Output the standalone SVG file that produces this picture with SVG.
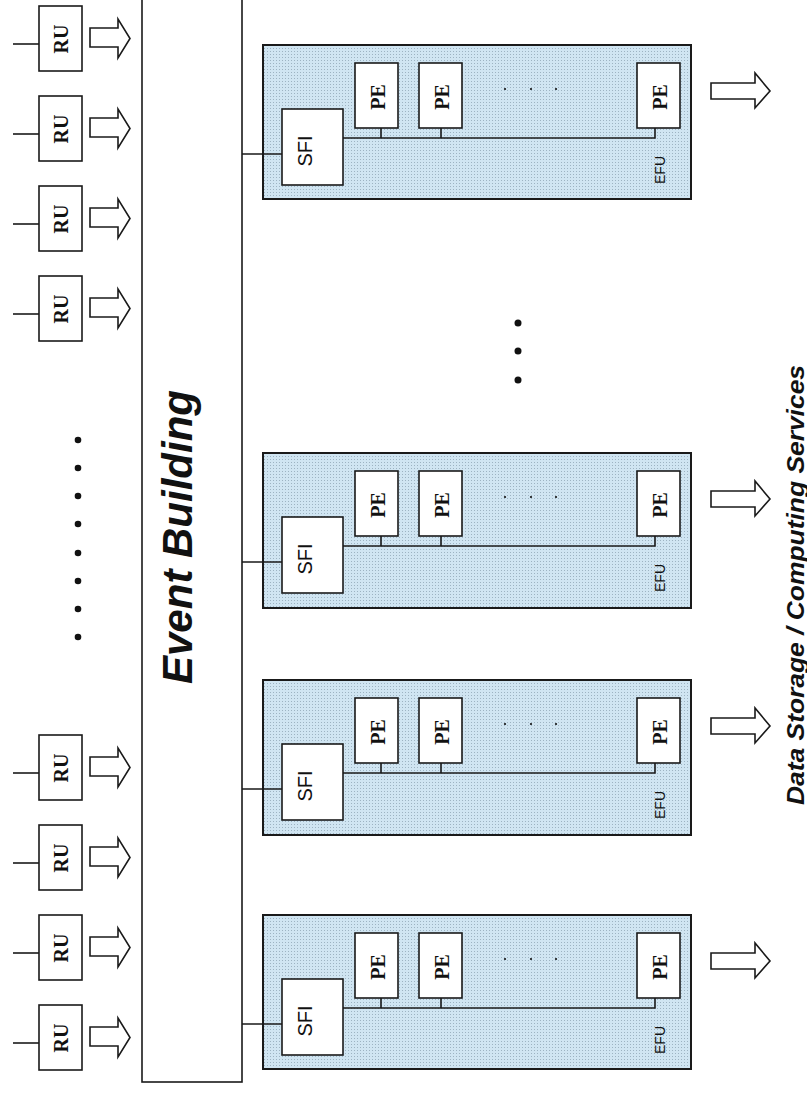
<svg xmlns="http://www.w3.org/2000/svg" width="807" height="1093" viewBox="0 0 807 1093">
<defs>
<pattern id="dots" width="3" height="3" patternUnits="userSpaceOnUse">
<rect width="3" height="3" fill="#d0e5f2"/>
<rect x="0" y="0" width="1" height="1" fill="#9db3c2"/>
</pattern>
<path id="ruArrow" d="M0,22 H28 V13 L40,32.5 L28,52 V41 H0 Z"/>
<path id="outArrow" d="M0,38 H44 V28 L59,46 L44,63 V54 H0 Z"/>
</defs>
<style>
.box{fill:#fff;stroke:#1a1a1a;stroke-width:1.6}
.efu{fill:url(#dots);stroke:#1a1a1a;stroke-width:2}
.ln{stroke:#1a1a1a;stroke-width:1.6;fill:none}
.arr{fill:#fff;stroke:#1a1a1a;stroke-width:1.6}
.serif{font-family:"Liberation Serif","Times New Roman",serif;font-weight:bold;font-size:20px;fill:#111}
.sans{font-family:"Liberation Sans",Arial,sans-serif;fill:#111}
.dot{fill:#111}
</style>
<rect width="807" height="1093" fill="#fff"/>

<g id="event-building">
<rect class="box" x="142" y="-5" width="100" height="1087"/>
<text class="sans" transform="translate(192,537) rotate(-90)" text-anchor="middle" font-size="42" font-weight="bold" font-style="italic">Event Building</text>
</g>

<g id="ru-1" transform="translate(0,6)">
<line class="ln" x1="13" y1="38" x2="39" y2="38"/>
<rect class="box" x="39" y="0" width="43" height="65"/>
<text class="serif" transform="translate(68,33) rotate(-90)" text-anchor="middle">RU</text>
<use href="#ruArrow" class="arr" x="90"/>
</g>
<g id="ru-2" transform="translate(0,96)">
<line class="ln" x1="13" y1="38" x2="39" y2="38"/>
<rect class="box" x="39" y="0" width="43" height="65"/>
<text class="serif" transform="translate(68,33) rotate(-90)" text-anchor="middle">RU</text>
<use href="#ruArrow" class="arr" x="90"/>
</g>
<g id="ru-3" transform="translate(0,186)">
<line class="ln" x1="13" y1="38" x2="39" y2="38"/>
<rect class="box" x="39" y="0" width="43" height="65"/>
<text class="serif" transform="translate(68,33) rotate(-90)" text-anchor="middle">RU</text>
<use href="#ruArrow" class="arr" x="90"/>
</g>
<g id="ru-4" transform="translate(0,276)">
<line class="ln" x1="13" y1="38" x2="39" y2="38"/>
<rect class="box" x="39" y="0" width="43" height="65"/>
<text class="serif" transform="translate(68,33) rotate(-90)" text-anchor="middle">RU</text>
<use href="#ruArrow" class="arr" x="90"/>
</g>
<g id="ru-5" transform="translate(0,735)">
<line class="ln" x1="13" y1="38" x2="39" y2="38"/>
<rect class="box" x="39" y="0" width="43" height="65"/>
<text class="serif" transform="translate(68,33) rotate(-90)" text-anchor="middle">RU</text>
<use href="#ruArrow" class="arr" x="90"/>
</g>
<g id="ru-6" transform="translate(0,825)">
<line class="ln" x1="13" y1="38" x2="39" y2="38"/>
<rect class="box" x="39" y="0" width="43" height="65"/>
<text class="serif" transform="translate(68,33) rotate(-90)" text-anchor="middle">RU</text>
<use href="#ruArrow" class="arr" x="90"/>
</g>
<g id="ru-7" transform="translate(0,915)">
<line class="ln" x1="13" y1="38" x2="39" y2="38"/>
<rect class="box" x="39" y="0" width="43" height="65"/>
<text class="serif" transform="translate(68,33) rotate(-90)" text-anchor="middle">RU</text>
<use href="#ruArrow" class="arr" x="90"/>
</g>
<g id="ru-8" transform="translate(0,1005)">
<line class="ln" x1="13" y1="38" x2="39" y2="38"/>
<rect class="box" x="39" y="0" width="43" height="65"/>
<text class="serif" transform="translate(68,33) rotate(-90)" text-anchor="middle">RU</text>
<use href="#ruArrow" class="arr" x="90"/>
</g>

<g id="ru-dots">
<circle class="dot" cx="78" cy="440" r="3.3"/>
<circle class="dot" cx="78" cy="468" r="3.3"/>
<circle class="dot" cx="78" cy="496" r="3.3"/>
<circle class="dot" cx="78" cy="524" r="3.3"/>
<circle class="dot" cx="78" cy="553" r="3.3"/>
<circle class="dot" cx="78" cy="581" r="3.3"/>
<circle class="dot" cx="78" cy="609" r="3.3"/>
<circle class="dot" cx="78" cy="637" r="3.3"/>
</g>

<g id="efu-dots">
<circle class="dot" cx="518" cy="323" r="3.5"/>
<circle class="dot" cx="518" cy="351" r="3.5"/>
<circle class="dot" cx="518" cy="380" r="3.5"/>
</g>

<g id="efu-1" transform="translate(0,45)">
<rect class="efu" x="263" y="0" width="428" height="154"/>
<rect class="box" x="282" y="64" width="61" height="76"/>
<text class="sans" transform="translate(312,106) rotate(-90)" text-anchor="middle" font-size="20">SFI</text>
<rect class="box" x="355" y="18" width="43" height="65"/>
<rect class="box" x="419" y="18" width="43" height="65"/>
<rect class="box" x="637" y="18" width="43" height="65"/>
<text class="serif" transform="translate(385,52) rotate(-90)" text-anchor="middle">PE</text>
<text class="serif" transform="translate(449,52) rotate(-90)" text-anchor="middle">PE</text>
<text class="serif" transform="translate(667,52) rotate(-90)" text-anchor="middle">PE</text>
<circle class="dot" cx="505" cy="44" r="1.1"/>
<circle class="dot" cx="531" cy="44" r="1.1"/>
<circle class="dot" cx="556" cy="44" r="1.1"/>
<text class="sans" transform="translate(665,125) rotate(-90)" text-anchor="middle" font-size="14">EFU</text>
<use href="#outArrow" class="arr" x="711"/>
</g>
<g id="efu-3" transform="translate(0,453)">
<rect class="efu" x="263" y="0" width="428" height="155"/>
<rect class="box" x="282" y="64" width="61" height="76"/>
<text class="sans" transform="translate(312,106) rotate(-90)" text-anchor="middle" font-size="20">SFI</text>
<rect class="box" x="355" y="18" width="43" height="65"/>
<rect class="box" x="419" y="18" width="43" height="65"/>
<rect class="box" x="637" y="18" width="43" height="65"/>
<text class="serif" transform="translate(385,52) rotate(-90)" text-anchor="middle">PE</text>
<text class="serif" transform="translate(449,52) rotate(-90)" text-anchor="middle">PE</text>
<text class="serif" transform="translate(667,52) rotate(-90)" text-anchor="middle">PE</text>
<circle class="dot" cx="505" cy="44" r="1.1"/>
<circle class="dot" cx="531" cy="44" r="1.1"/>
<circle class="dot" cx="556" cy="44" r="1.1"/>
<text class="sans" transform="translate(665,125) rotate(-90)" text-anchor="middle" font-size="14">EFU</text>
<use href="#outArrow" class="arr" x="711"/>
</g>
<g id="efu-2" transform="translate(0,680)">
<rect class="efu" x="263" y="0" width="428" height="155"/>
<rect class="box" x="282" y="64" width="61" height="76"/>
<text class="sans" transform="translate(312,106) rotate(-90)" text-anchor="middle" font-size="20">SFI</text>
<rect class="box" x="355" y="18" width="43" height="65"/>
<rect class="box" x="419" y="18" width="43" height="65"/>
<rect class="box" x="637" y="18" width="43" height="65"/>
<text class="serif" transform="translate(385,52) rotate(-90)" text-anchor="middle">PE</text>
<text class="serif" transform="translate(449,52) rotate(-90)" text-anchor="middle">PE</text>
<text class="serif" transform="translate(667,52) rotate(-90)" text-anchor="middle">PE</text>
<circle class="dot" cx="505" cy="44" r="1.1"/>
<circle class="dot" cx="531" cy="44" r="1.1"/>
<circle class="dot" cx="556" cy="44" r="1.1"/>
<text class="sans" transform="translate(665,125) rotate(-90)" text-anchor="middle" font-size="14">EFU</text>
<use href="#outArrow" class="arr" x="711"/>
</g>
<g id="efu-0" transform="translate(0,915)">
<rect class="efu" x="263" y="0" width="428" height="154"/>
<rect class="box" x="282" y="64" width="61" height="76"/>
<text class="sans" transform="translate(312,106) rotate(-90)" text-anchor="middle" font-size="20">SFI</text>
<rect class="box" x="355" y="18" width="43" height="65"/>
<rect class="box" x="419" y="18" width="43" height="65"/>
<rect class="box" x="637" y="18" width="43" height="65"/>
<text class="serif" transform="translate(385,52) rotate(-90)" text-anchor="middle">PE</text>
<text class="serif" transform="translate(449,52) rotate(-90)" text-anchor="middle">PE</text>
<text class="serif" transform="translate(667,52) rotate(-90)" text-anchor="middle">PE</text>
<circle class="dot" cx="505" cy="44" r="1.1"/>
<circle class="dot" cx="531" cy="44" r="1.1"/>
<circle class="dot" cx="556" cy="44" r="1.1"/>
<text class="sans" transform="translate(665,125) rotate(-90)" text-anchor="middle" font-size="14">EFU</text>
<use href="#outArrow" class="arr" x="711"/>
</g>

<g id="connectors">
<path class="ln" d="M242,154 H282 M343,138 H655 V128 M381,128 V138 M441,128 V138"/>
<path class="ln" d="M242,562 H282 M343,546 H655 V536 M381,536 V546 M441,536 V546"/>
<path class="ln" d="M242,789 H282 M343,773 H655 V763 M381,763 V773 M441,763 V773"/>
<path class="ln" d="M242,1024 H282 M343,1008 H655 V998 M381,998 V1008 M441,998 V1008"/>
</g>

<g id="output-label">
<text class="sans" transform="translate(804,585) rotate(-90)" text-anchor="middle" font-size="23" font-weight="bold" font-style="italic" textLength="440" lengthAdjust="spacingAndGlyphs">Data Storage / Computing Services</text>
</g>
</svg>
